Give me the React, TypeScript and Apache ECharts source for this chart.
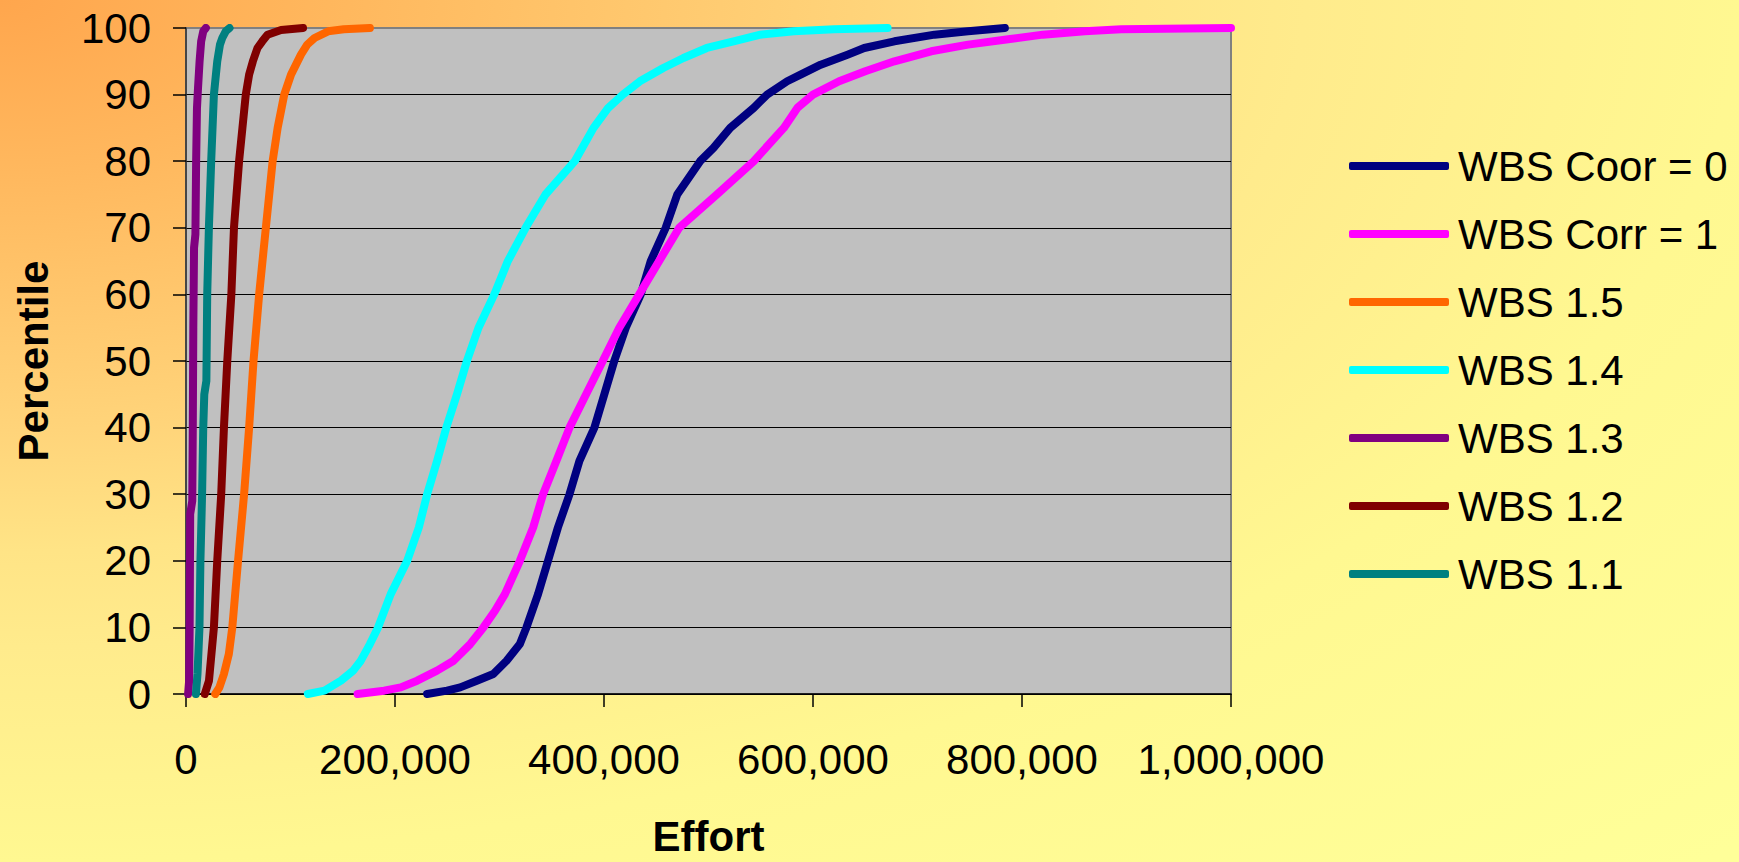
import React, { useEffect, useRef } from "react";
import * as echarts from "echarts";

// [effort, percentile] pairs
const wbsCoor0: number[][] = [[230700,0],[249800,0.5],[262400,1],[278300,2],[294100,3],[306800,5],[319500,7.5],[325800,10],[336900,15],[346400,20],[355900,25],[367000,30],[376500,35],[390800,40],[400300,45],[409800,50],[420900,55],[435200,60],[444700,65],[459000,70],[470100,75],[492000,80],[504800,82],[520800,85],[543300,88],[556100,90],[575300,92],[588100,93],[607400,94.5],[633000,96],[649000,97],[677900,98],[716300,99],[748400,99.5],[783600,100]];
const wbsCorr1: number[][] = [[164200,0],[189600,0.5],[205500,1],[221200,2],[240200,3.5],[256100,5],[272000,7.5],[284600,10],[295700,12.5],[305200,15],[319500,20],[332200,25],[341700,30],[354400,35],[367000,40],[382900,45],[398800,50],[414600,55],[433700,60],[452700,65],[472000,70],[508000,75],[543300,80],[572100,85],[585000,88],[600000,90],[625000,92],[650000,93.5],[677900,95],[713100,96.5],[748400,97.5],[786800,98.3],[820000,99],[860000,99.5],[895000,99.8],[1000000,100]];
const wbs15: number[][] = [[28000,0],[32000,1],[36300,3],[41000,6],[44300,10],[49800,20],[55600,30],[60400,40],[64600,50],[70000,60],[76400,70],[82900,80],[87700,85],[94000,90],[100500,93],[110000,96],[116000,97.5],[123000,98.5],[136000,99.5],[151000,99.8],[176000,100]];
const wbs14: number[][] = [[116600,0],[132500,0.5],[148300,2],[160000,3.5],[167300,5],[176000,7.5],[183800,10],[195900,15],[211700,20],[222800,25],[230800,30],[240300,35],[249100,40],[259300,45],[268800,50],[279900,55],[295000,60],[308000,65],[325000,70],[344000,75],[372000,80],[390000,85],[404000,88],[418000,90],[434300,92],[456700,94],[476000,95.5],[498400,97],[524000,98],[549700,99],[581700,99.5],[620000,99.8],[671400,100]];
const wbs13: number[][] = [[2000,0],[3000,2],[3500,10],[3800,20],[4000,27],[6000,29],[6500,40],[7000,55],[7700,67],[9000,69],[9700,80],[10500,88],[11500,91],[13000,95],[14500,98],[16500,99.5],[19000,100]];
const wbs12: number[][] = [[18000,0],[22000,2],[26700,10],[29900,20],[33700,30],[36300,40],[39500,50],[43400,60],[45900,70],[50800,80],[54000,85],[57200,90],[60400,93],[64000,95],[68400,97],[73000,98],[78000,99],[91000,99.7],[112000,100]];
const wbs11: number[][] = [[9500,0],[11000,3],[12900,10],[13800,20],[15400,30],[16500,40],[17500,45],[19500,47],[20300,60],[21900,70],[24100,80],[26700,90],[29900,95],[32500,97.5],[34700,98.5],[38000,99.5],[41700,100]];

const seriesNames = ["WBS Coor = 0", "WBS Corr = 1", "WBS 1.5", "WBS 1.4", "WBS 1.3", "WBS 1.2", "WBS 1.1"];
const seriesData = [wbsCoor0, wbsCorr1, wbs15, wbs14, wbs13, wbs12, wbs11];
const seriesColors = ["#000080", "#FF00FF", "#FF6600", "#00FFFF", "#800080", "#800000", "#008080"];

const FONT = "'Liberation Sans', Arial, Helvetica, sans-serif";

export default function App() {
  const ref = useRef<HTMLDivElement>(null);
  useEffect(() => {
    document.body.style.margin = "0";
    const chart = echarts.init(ref.current!, null, { renderer: "svg" });
    const gridColors = Array.from({ length: 11 }, (_, i) => (i === 10 ? "#808080" : "#000000"));
    chart.setOption({
      animation: false,
      textStyle: { fontFamily: FONT },
      grid: {
        left: 186,
        right: 508,
        top: 28,
        bottom: 161,
        show: true,
        backgroundColor: "#C0C0C0",
        borderColor: "#808080",
        borderWidth: 2,
      },
      legend: {
        orient: "vertical",
        left: 1344,
        top: 140,
        itemWidth: 100,
        itemHeight: 8,
        itemGap: 26,
        icon: "roundRect",
        selectedMode: false,
        textStyle: { fontSize: 42, color: "#000", fontFamily: FONT, padding: [0, 0, 0, 4] },
        data: seriesNames,
      },
      xAxis: {
        type: "value",
        min: 0,
        max: 1000000,
        interval: 200000,
        name: "Effort",
        nameLocation: "middle",
        nameGap: 142,
        nameTextStyle: { fontSize: 42, fontWeight: "bold", color: "#000", fontFamily: FONT, verticalAlign: "middle" },
        axisLine: { show: true, lineStyle: { color: "#000", width: 1.5 } },
        axisTick: { show: true, length: 13, lineStyle: { color: "#000", width: 1.5 } },
        axisLabel: {
          fontSize: 42,
          color: "#000",
          fontFamily: FONT,
          margin: 44,
          formatter: (v: number) => v.toLocaleString("en-US"),
        },
        splitLine: { show: false },
      },
      yAxis: {
        type: "value",
        min: 0,
        max: 100,
        interval: 10,
        name: "Percentile",
        nameLocation: "middle",
        nameGap: 153,
        nameTextStyle: { fontSize: 42, fontWeight: "bold", color: "#000", fontFamily: FONT, verticalAlign: "middle" },
        axisLine: { show: true, lineStyle: { color: "#333", width: 1.5 } },
        axisTick: { show: true, length: 13, lineStyle: { color: "#000", width: 1.5 } },
        axisLabel: { fontSize: 42, color: "#000", fontFamily: FONT, margin: 35 },
        splitLine: { show: true, lineStyle: { color: gridColors, width: 1.2 } },
      },
      series: seriesNames.map((name, i) => ({
        name,
        type: "line",
        data: seriesData[i],
        showSymbol: false,
        symbol: "none",
        color: seriesColors[i],
        lineStyle: { width: 8, color: seriesColors[i], cap: "round", join: "round" },
        emphasis: { disabled: true },
      })),
    });
    return () => chart.dispose();
  }, []);
  return (
    <div
      style={{
        position: "absolute",
        left: 0,
        top: 0,
        width: 1739,
        height: 862,
        background:
          "radial-gradient(1739px 862px at 0px 0px, #FFA64D 0%, #FFB85E 20%, #FFC66C 35%, #FFD47A 50%, #FFE486 64%, #FFEB8C 75%, #FFF891 100%, #FFFF99 140%)",
      }}
    >
      <div ref={ref} style={{ width: 1739, height: 862 }} />
    </div>
  );
}
